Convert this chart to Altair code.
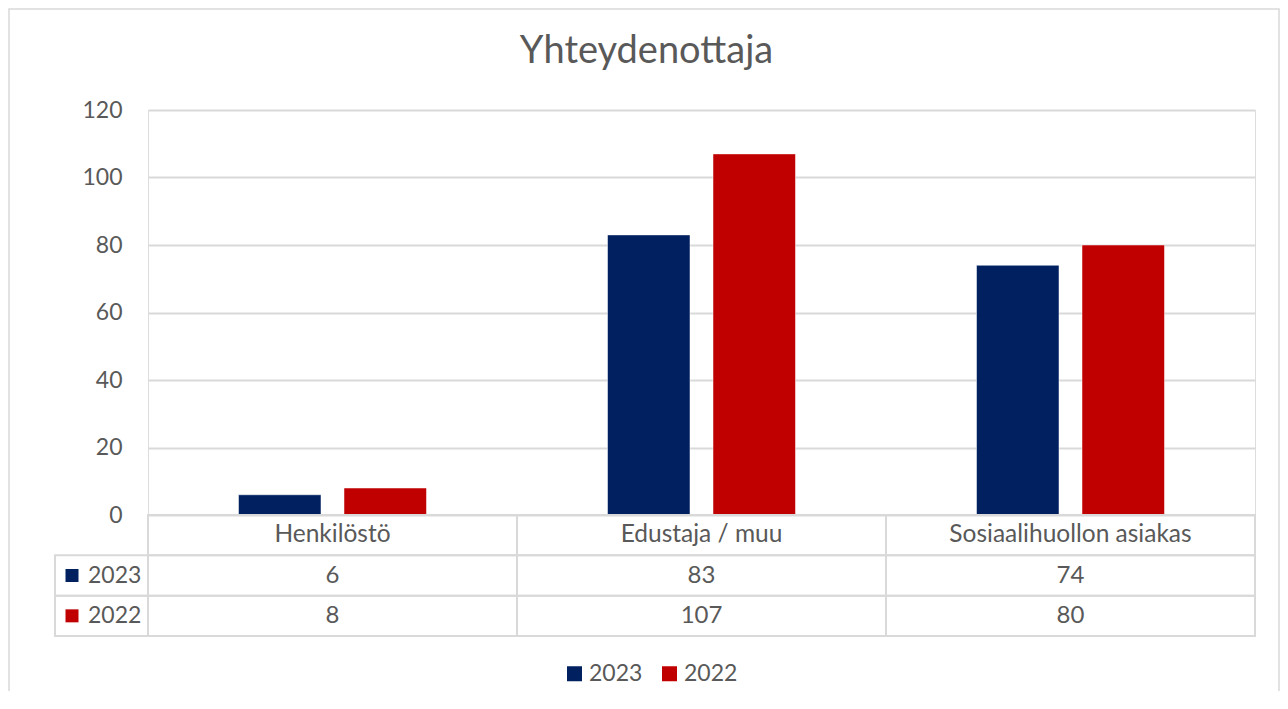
import altair as alt
import pandas as pd

# ---- data ----
categories = ["Henkilöstö", "Edustaja / muu", "Sosiaalihuollon asiakas"]
years = ["2023", "2022"]
values_2023 = [6, 83, 74]
values_2022 = [8, 107, 80]
y_ticks = [0, 20, 40, 60, 80, 100, 120]
title_text = "Yhteydenottaja"

colors = ["#002060", "#C00000"]
TXT = "#595959"
GRID = "#D9D9D9"
FONT = "Lato"

series = {"2023": values_2023, "2022": values_2022}

bars_df = pd.DataFrame(
    [{"cat": c, "year": y, "value": v} for y in years for c, v in zip(categories, series[y])]
)
table_rows = ["header"] + years
head_df = pd.DataFrame([{"cat": c, "row": "header", "text": c} for c in categories])
num_df = pd.DataFrame(
    [{"cat": c, "row": y, "text": str(v)} for y in years for c, v in zip(categories, series[y])]
)
table_df = pd.concat([head_df, num_df], ignore_index=True)
rowlab_df = pd.DataFrame({"row": years})

W, H = 1107, 526
PLOT_H = 405

xscale = alt.Scale(domain=categories, paddingInner=0, paddingOuter=0)
rowscale = alt.Scale(domain=table_rows, range=[PLOT_H, H], paddingInner=0, paddingOuter=0)
colscale = alt.Scale(domain=years, range=colors)

bars = alt.Chart(bars_df).mark_bar(stroke="white", strokeWidth=0.5).encode(
    x=alt.X("cat:N", scale=xscale, axis=None, sort=categories),
    xOffset=alt.XOffset("year:N", sort=years,
                        scale=alt.Scale(paddingInner=0.218, paddingOuter=0.858)),
    y=alt.Y("value:Q", scale=alt.Scale(domain=[0, 120], range=[PLOT_H, 0], nice=False),
            axis=alt.Axis(values=y_ticks, title=None, domain=False, ticks=False,
                          labelPadding=26, labelFontSize=23, labelFont=FONT,
                          labelColor=TXT, grid=True, gridColor=GRID, gridWidth=2)),
    color=alt.Color("year:N", scale=colscale, sort=years,
                    legend=alt.Legend(title=None, orient="none", direction="horizontal",
                                      legendX=415, legendY=552, symbolType="square",
                                      symbolSize=225, symbolStrokeWidth=0,
                                      labelFontSize=23, labelFont=FONT, labelColor=TXT,
                                      labelOffset=3, columnPadding=15)),
)

cells = alt.Chart(table_df).mark_rect(fillOpacity=0, stroke=GRID, strokeWidth=2).encode(
    x=alt.X("cat:N", scale=xscale, axis=None, sort=categories),
    y=alt.Y("row:N", scale=rowscale, axis=None),
)

head_text = alt.Chart(head_df).mark_text(fontSize=24.5, font=FONT, color=TXT).encode(
    x=alt.X("cat:N", scale=xscale, axis=None, sort=categories),
    y=alt.Y("row:N", scale=rowscale, axis=None),
    text="text:N",
)

num_text = alt.Chart(num_df).mark_text(fontSize=24, font=FONT, color=TXT).encode(
    x=alt.X("cat:N", scale=xscale, axis=None, sort=categories),
    y=alt.Y("row:N", scale=rowscale, axis=None),
    text="text:N",
)

left_cells = alt.Chart(rowlab_df).mark_rect(fillOpacity=0, stroke=GRID, strokeWidth=2).encode(
    x=alt.value(-93), x2=alt.value(0),
    y=alt.Y("row:N", scale=rowscale, axis=None),
)

left_keys = alt.Chart(rowlab_df).mark_point(shape="square", filled=True, size=169, opacity=1).encode(
    x=alt.value(-76),
    y=alt.Y("row:N", scale=rowscale, axis=None),
    fill=alt.Fill("row:N", scale=alt.Scale(domain=years, range=colors), legend=None),
)

left_text = alt.Chart(rowlab_df).mark_text(fontSize=23, font=FONT, color=TXT, align="left").encode(
    x=alt.value(-60),
    y=alt.Y("row:N", scale=rowscale, axis=None),
    text="row:N",
)

frame = alt.Chart(pd.DataFrame({"k": [0]})).mark_rect(
    fillOpacity=0, stroke=GRID, strokeWidth=1.5
).encode(
    x=alt.value(-139), x2=alt.value(1131), y=alt.value(-101), y2=alt.value(640),
)

chart = alt.layer(
    frame, bars, cells, head_text, num_text, left_cells, left_keys, left_text
).resolve_scale(y="independent", fill="independent").properties(
    width=W, height=H,
    autosize=alt.AutoSizeParams(type="none"),
    padding={"left": 140, "top": 102, "right": 25, "bottom": 55},
    title=alt.TitleParams(title_text, fontSize=38, font=FONT, color=TXT, fontWeight="normal",
                          anchor="middle", frame="group", dx=-55, offset=-93,
                          baseline="alphabetic"),
).configure_view(stroke=None).configure(background="white")

chart.save("out.html", embed_options={"renderer": "svg", "actions": False})
